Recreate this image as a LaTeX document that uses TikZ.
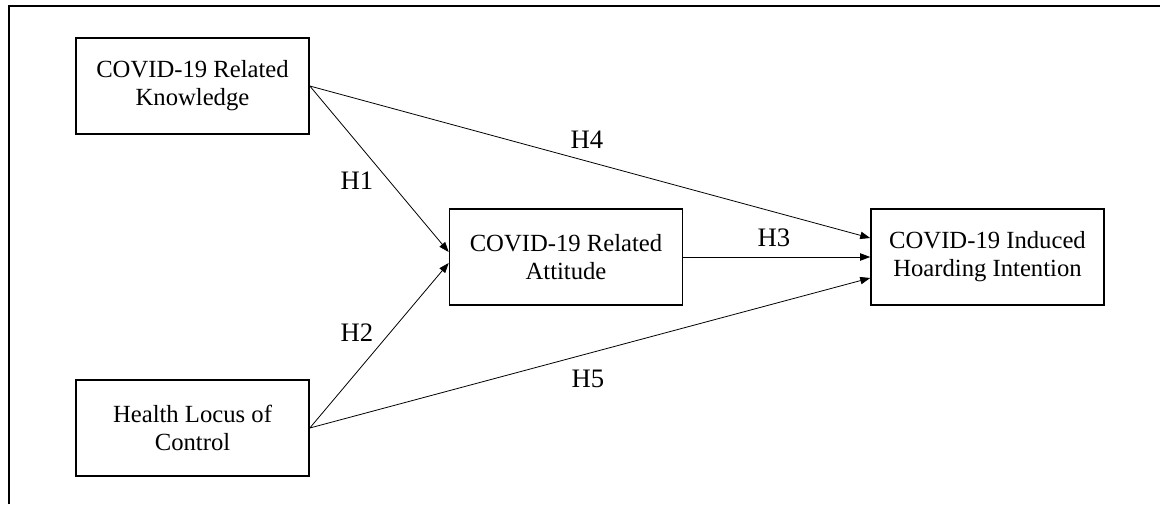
\documentclass[tikz,border=0pt]{standalone}
\usepackage{fontspec}
\setmainfont{Liberation Serif}
\usetikzlibrary{arrows.meta}

\tikzset{
  varbox/.style={draw, line width=1.2pt, minimum width=174.75pt, minimum height=72pt, inner sep=0pt, align=center, font=\fontsize{18.5}{21}\selectfont},
  hyplabel/.style={inner sep=0pt, font=\fontsize{20}{22}\selectfont},
  hyparrow/.style={line width=0.6pt, -{Triangle[length=7.5pt,width=5.5pt]}}
}

\begin{document}
\begin{tikzpicture}[x=0.75pt,y=0.75pt,yscale=-1,xscale=1]
\useasboundingbox (0,0) rectangle (1160,504);

%Straight Lines: frame
\draw [line width=1.2pt] (9,504) -- (9,6) -- (1160,6) ;

%Shape: Rectangle
\node [varbox] (know) at (192.5,86) {COVID-19 Related\\Knowledge};
%Shape: Rectangle
\node [varbox] (locus) at (192.5,428) {Health Locus of\\Control};
%Shape: Rectangle
\node [varbox] (att) at (566,257) {COVID-19 Related\\Attitude};
%Shape: Rectangle
\node [varbox] (hoard) at (987.5,257) {COVID-19 Induced\\Hoarding Intention};

%Straight Lines
\draw [hyparrow] (know.east) -- ([yshift=-3.75pt]att.west) ;
%Straight Lines
\draw [hyparrow] (locus.east) -- ([yshift=4.5pt]att.west) ;
%Straight Lines
\draw [hyparrow] (att.east) -- (hoard.west) ;
%Straight Lines
\draw [hyparrow] (know.east) -- ([yshift=-14.25pt]hoard.west) ;
%Straight Lines
\draw [hyparrow] (locus.east) -- ([yshift=15.75pt]hoard.west) ;

% Text Node
\node [hyplabel] (h1) at (357,181) {H1};
% Text Node
\node [hyplabel] (h2) at (357,333) {H2};
% Text Node
\node [hyplabel] (h3) at (774,238) {H3};
% Text Node
\node [hyplabel] (h4) at (587,140) {H4};
% Text Node
\node [hyplabel] (h5) at (588,379) {H5};

\end{tikzpicture}
\end{document}
